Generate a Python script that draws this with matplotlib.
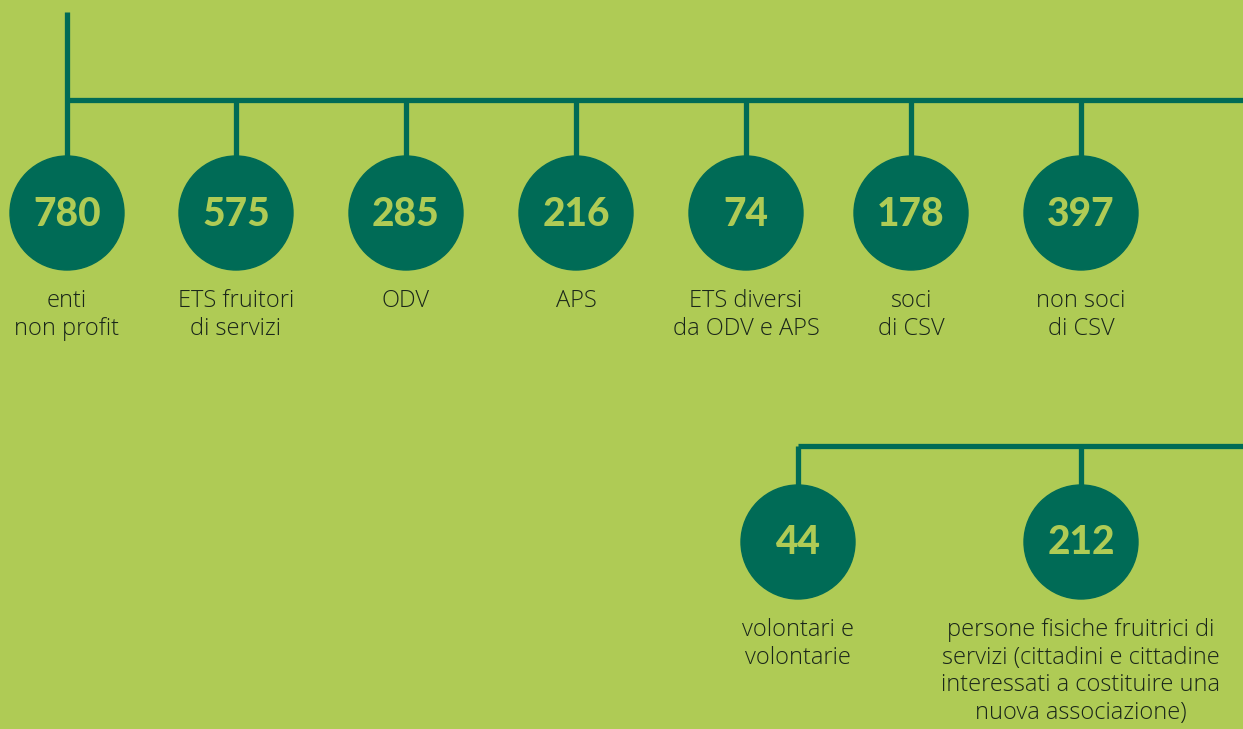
import matplotlib
matplotlib.use("Agg")
import matplotlib.pyplot as plt
from matplotlib.patches import Circle

# Data
top_values = [780, 575, 285, 216, 74, 178, 397]
top_labels = ["enti\nnon profit", "ETS fruitori\ndi servizi", "ODV", "APS",
              "ETS diversi\nda ODV e APS", "soci\ndi CSV", "non soci\ndi CSV"]
bottom_values = [44, 212]
bottom_labels = ["volontari e\nvolontarie",
                 "persone fisiche fruitrici di\nservizi (cittadini e cittadine\ninteressati a costituire una\nnuova associazione)"]

# Layout
W, H = 1243, 729
top_x = [67, 236, 406, 576, 746, 911, 1081]
bot_x = [798, 1081]
top_cy, bot_cy = 213, 542
R = 57
top_bar_y, bot_bar_y = 100, 446

BG = "#AFCB55"
DARK = "#006B56"
TEXT = "#1A261A"
LW = 3.8

fig = plt.figure(figsize=(W / 100, H / 100), dpi=100)
fig.patch.set_facecolor(BG)
ax = fig.add_axes([0, 0, 1, 1])
ax.set_xlim(0, W)
ax.set_ylim(H, 0)
ax.set_facecolor(BG)
ax.axis("off")

# Top tree
ax.plot([top_x[0], top_x[0]], [12, top_cy - R + 2], color=DARK, lw=LW, solid_capstyle="butt")
ax.plot([top_x[0], W], [top_bar_y, top_bar_y], color=DARK, lw=LW, solid_capstyle="butt")
for x in top_x[1:]:
    ax.plot([x, x], [top_bar_y, top_cy - R + 2], color=DARK, lw=LW, solid_capstyle="butt")

# Bottom tree
ax.plot([bot_x[0], W], [bot_bar_y, bot_bar_y], color=DARK, lw=LW, solid_capstyle="butt")
for x in bot_x:
    ax.plot([x, x], [bot_bar_y, bot_cy - R + 2], color=DARK, lw=LW, solid_capstyle="butt")

def node(x, cy, val, label):
    ax.add_patch(Circle((x, cy), R, color=DARK, zorder=3))
    ax.text(x, cy + 1, str(val), ha="center", va="center", color=BG,
            fontsize=28, fontweight="black", family="Lato", zorder=4)
    ax.text(x, cy + R + 19, label, ha="center", va="top", color=TEXT,
            fontsize=17, fontweight="light", family="Open Sans", linespacing=1.2)

for x, v, l in zip(top_x, top_values, top_labels):
    node(x, top_cy, v, l)
for x, v, l in zip(bot_x, bottom_values, bottom_labels):
    node(x, bot_cy, v, l)

fig.savefig("out.png", dpi=100, facecolor=BG)
